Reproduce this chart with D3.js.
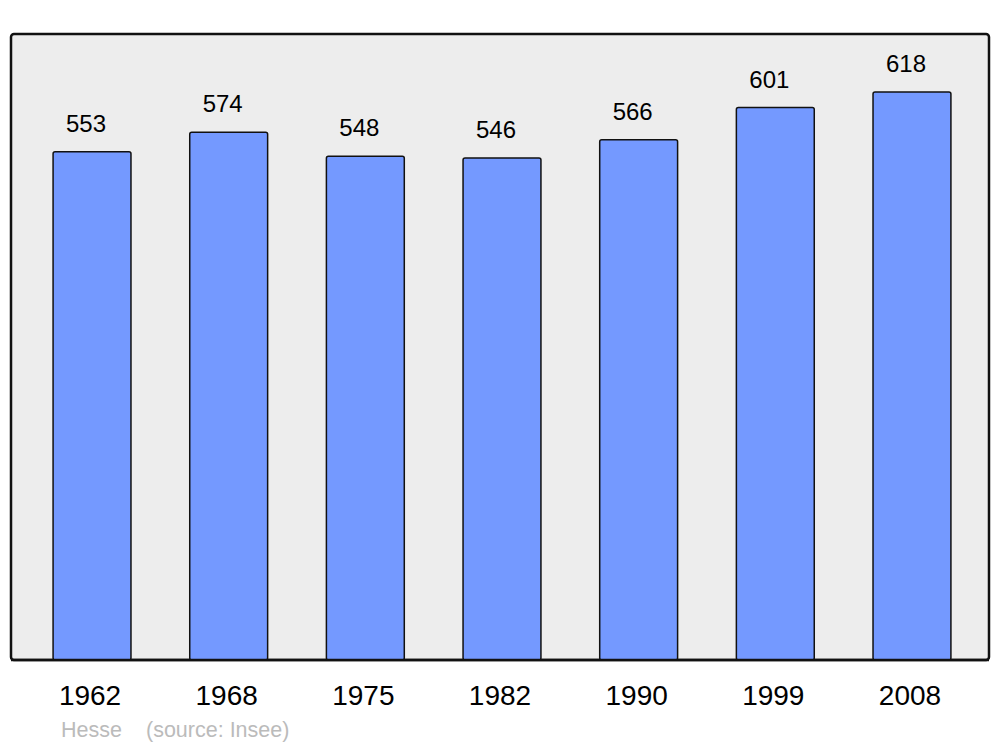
<!DOCTYPE html>
<html><head><meta charset="utf-8">
<script src="https://cdn.jsdelivr.net/npm/d3@7"></script>
<style>body{margin:0;background:#fff}svg{display:block}text{font-family:"Liberation Sans",Arial,sans-serif}</style>
</head><body>
<script>
const years = ["1962","1968","1975","1982","1990","1999","2008"];
const population = [553,574,548,546,566,601,618];
const sourceLabel = "Hesse";
const sourceNote = "(source: Insee)";

const W = 1000, H = 747;
const svg = d3.select("body").append("svg").attr("width", W).attr("height", H);

const frame = {left: 11, top: 34, right: 989, bottom: 660};
svg.append("rect").attr("x", frame.left).attr("y", frame.top)
  .attr("width", frame.right - frame.left).attr("height", frame.bottom - frame.top)
  .attr("rx", 3).attr("fill", "#ededed").attr("stroke", "#111").attr("stroke-width", 2.5);

const x = d3.scaleBand().domain(years).range([23.7, 980.3]).paddingInner(0.43).paddingOuter(0.215);
const y = d3.scaleLinear().domain([0, 681]).range([frame.bottom, frame.top]);

const data = years.map((yr, i) => ({yr, v: population[i]}));

svg.append("g").selectAll("rect").data(data).join("rect")
  .attr("x", d => x(d.yr)).attr("y", d => y(d.v))
  .attr("width", x.bandwidth()).attr("height", d => y(0) - y(d.v))
  .attr("rx", 2).attr("fill", "#7499ff").attr("stroke", "#111").attr("stroke-width", 1.5);

svg.append("line").attr("x1", frame.left).attr("x2", frame.right)
  .attr("y1", frame.bottom).attr("y2", frame.bottom).attr("stroke", "#111").attr("stroke-width", 2.5);

svg.append("g").selectAll("text").data(data).join("text")
  .attr("x", d => x(d.yr) + x.bandwidth()/2 - 6).attr("y", d => y(d.v) - 20)
  .attr("text-anchor", "middle").attr("font-size", 24).attr("fill", "#000")
  .text(d => d.v);

svg.append("g").selectAll("text").data(years).join("text")
  .attr("x", d => x(d) + x.bandwidth()/2 - 2).attr("y", 705)
  .attr("text-anchor", "middle").attr("font-size", 28).attr("fill", "#000")
  .text(d => d);

svg.append("text").attr("x", 61).attr("y", 737).attr("font-size", 21.5).attr("fill", "#bbb").text(sourceLabel);
svg.append("text").attr("x", 146).attr("y", 737).attr("font-size", 21.5).attr("fill", "#bbb").text(sourceNote);
</script>
</body></html>
